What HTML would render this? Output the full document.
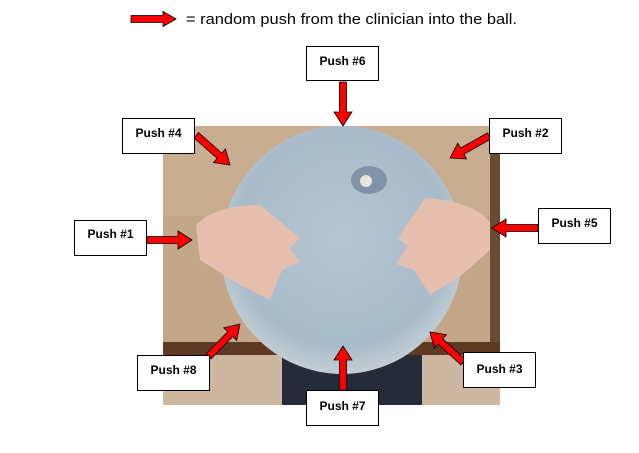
<!DOCTYPE html>
<html><head><meta charset="utf-8"><style>
html,body{margin:0;padding:0;background:#fff;}
svg{display:block;}
.b{fill:#fff;stroke:#000;stroke-width:1;}
.t{font-family:"Liberation Sans",sans-serif;font-weight:bold;font-size:12px;fill:#000;}
.ar{fill:#f00;stroke:#000;stroke-width:0.8;}
</style></head><body>
<svg width="639" height="453" viewBox="0 0 639 453" xmlns="http://www.w3.org/2000/svg">
<defs>
<radialGradient id="ball" cx="0.5" cy="0.45" r="0.55">
<stop offset="0" stop-color="#b4c6d2"/><stop offset="0.8" stop-color="#a9bccb"/><stop offset="1" stop-color="#c3ced4"/>
</radialGradient>
</defs>
<!-- photo -->
<rect x="163" y="126" width="337" height="279" fill="#c4a689"/>
<rect x="163" y="126" width="337" height="90" fill="#c9ad90"/>
<rect x="490" y="126" width="10" height="279" fill="#6a4a33"/>
<rect x="163" y="342" width="337" height="13" fill="#5e3a25"/>
<rect x="163" y="355" width="337" height="50" fill="#cdb7a0"/>
<rect x="282" y="355" width="140" height="50" fill="#262b3a"/>
<ellipse cx="342" cy="250" rx="121" ry="124" fill="url(#ball)"/>
<ellipse cx="369" cy="180" rx="18" ry="14" fill="#8193a8"/>
<circle cx="366" cy="181" r="6" fill="#e8e4d8"/>
<!-- hands -->
<path d="M196,225 Q215,205 260,205 L300,238 L290,248 L300,262 L282,270 L270,300 L240,285 L200,260 Z" fill="#e7bfae"/>
<path d="M490,222 Q470,200 425,198 L398,238 L408,246 L396,264 L414,270 L430,295 L462,275 L490,250 Z" fill="#e7bfae"/>
<!-- legend -->
<g transform="translate(176,19)"><polygon class="ar" points="0,0 -13,-7.5 -13,-3.5 -45,-3.5 -45,3.5 -13,3.5 -13,7.5"/></g>
<text x="186" y="24" font-family="'Liberation Sans',sans-serif" font-size="15" fill="#000" textLength="331" lengthAdjust="spacingAndGlyphs">= random push from the clinician into the ball.</text>
<!-- arrows: tail -> tip -->
<g class="ar">
<polygon transform="translate(343,126) rotate(90)" points="0,0 -14,-9 -14,-3.5 -44,-3.5 -44,3.5 -14,3.5 -14,9"/>
<polygon transform="translate(230,165) rotate(41.4)" points="0,0 -14,-9 -14,-3.5 -45,-3.5 -45,3.5 -14,3.5 -14,9"/>
<polygon transform="translate(450,158) rotate(150.6)" points="0,0 -14,-9 -14,-3.5 -45,-3.5 -45,3.5 -14,3.5 -14,9"/>
<polygon transform="translate(192,240)" points="0,0 -14,-9 -14,-3.5 -45,-3.5 -45,3.5 -14,3.5 -14,9"/>
<polygon transform="translate(492,228) rotate(180)" points="0,0 -14,-9 -14,-3.5 -46,-3.5 -46,3.5 -14,3.5 -14,9"/>
<polygon transform="translate(240,324) rotate(-45.9)" points="0,0 -14,-9 -14,-3.5 -45,-3.5 -45,3.5 -14,3.5 -14,9"/>
<polygon transform="translate(430,332) rotate(-137.7)" points="0,0 -14,-9 -14,-3.5 -45,-3.5 -45,3.5 -14,3.5 -14,9"/>
<polygon transform="translate(343,346) rotate(-90)" points="0,0 -14,-9 -14,-3.5 -44,-3.5 -44,3.5 -14,3.5 -14,9"/>
</g>
<!-- boxes -->
<rect class="b" x="306.5" y="46.5" width="72" height="34"/><text class="t" x="342.5" y="65" text-anchor="middle">Push #6</text>
<rect class="b" x="122.5" y="118.5" width="72" height="35"/><text class="t" x="158.5" y="137" text-anchor="middle">Push #4</text>
<rect class="b" x="489.5" y="118.5" width="72" height="35"/><text class="t" x="525.5" y="137" text-anchor="middle">Push #2</text>
<rect class="b" x="74.5" y="220.5" width="72" height="35"/><text class="t" x="110.5" y="238" text-anchor="middle">Push #1</text>
<rect class="b" x="538.5" y="208.5" width="72" height="35"/><text class="t" x="574.5" y="227" text-anchor="middle">Push #5</text>
<rect class="b" x="137.5" y="355.5" width="72" height="35"/><text class="t" x="173.5" y="374" text-anchor="middle">Push #8</text>
<rect class="b" x="463.5" y="352.5" width="72" height="35"/><text class="t" x="499.5" y="373" text-anchor="middle">Push #3</text>
<rect class="b" x="306.5" y="390.5" width="72" height="35"/><text class="t" x="342.5" y="410" text-anchor="middle">Push #7</text>
</svg>
</body></html>
